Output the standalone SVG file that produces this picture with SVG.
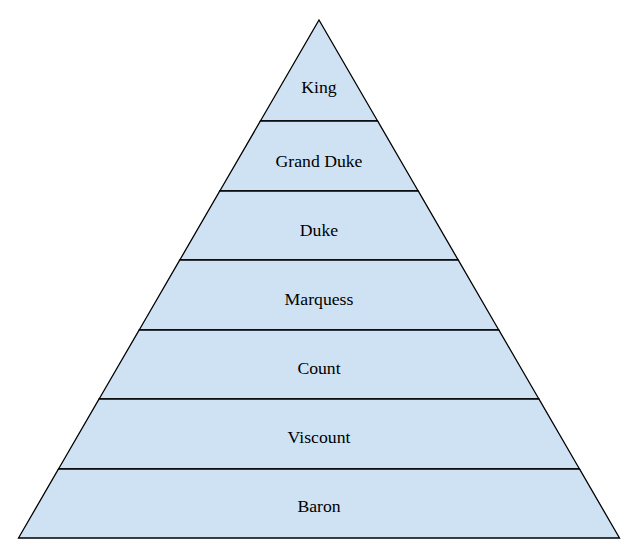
<svg xmlns="http://www.w3.org/2000/svg" width="635" height="550" viewBox="0 0 635 550">
<style>
.layer{fill:#cfe2f3;stroke:#000;stroke-width:1.3;stroke-linejoin:miter}
.lbl{font-family:"Liberation Serif","Times New Roman",serif;font-size:17.7px;fill:#000;text-anchor:middle}
</style>
<rect width="635" height="550" fill="#fff"/>
<g id="king"><polygon class="layer" points="319,20 377.6,121 260.4,121"/><text class="lbl" x="319" y="93">King</text></g>
<g id="grand-duke"><polygon class="layer" points="260.4,121 377.6,121 418.2,191 219.8,191"/><text class="lbl" x="319" y="167">Grand Duke</text></g>
<g id="duke"><polygon class="layer" points="219.8,191 418.2,191 458.2,260 179.8,260"/><text class="lbl" x="319" y="236">Duke</text></g>
<g id="marquess"><polygon class="layer" points="179.8,260 458.2,260 498.8,330 139.2,330"/><text class="lbl" x="319" y="305">Marquess</text></g>
<g id="count"><polygon class="layer" points="139.2,330 498.8,330 538.9,399 99.1,399"/><text class="lbl" x="319" y="374">Count</text></g>
<g id="viscount"><polygon class="layer" points="99.1,399 538.9,399 579.5,469 58.5,469"/><text class="lbl" x="319" y="443">Viscount</text></g>
<g id="baron"><polygon class="layer" points="58.5,469 579.5,469 619.5,538 18.5,538"/><text class="lbl" x="319" y="512">Baron</text></g>
<g id="connectors"></g>
</svg>
